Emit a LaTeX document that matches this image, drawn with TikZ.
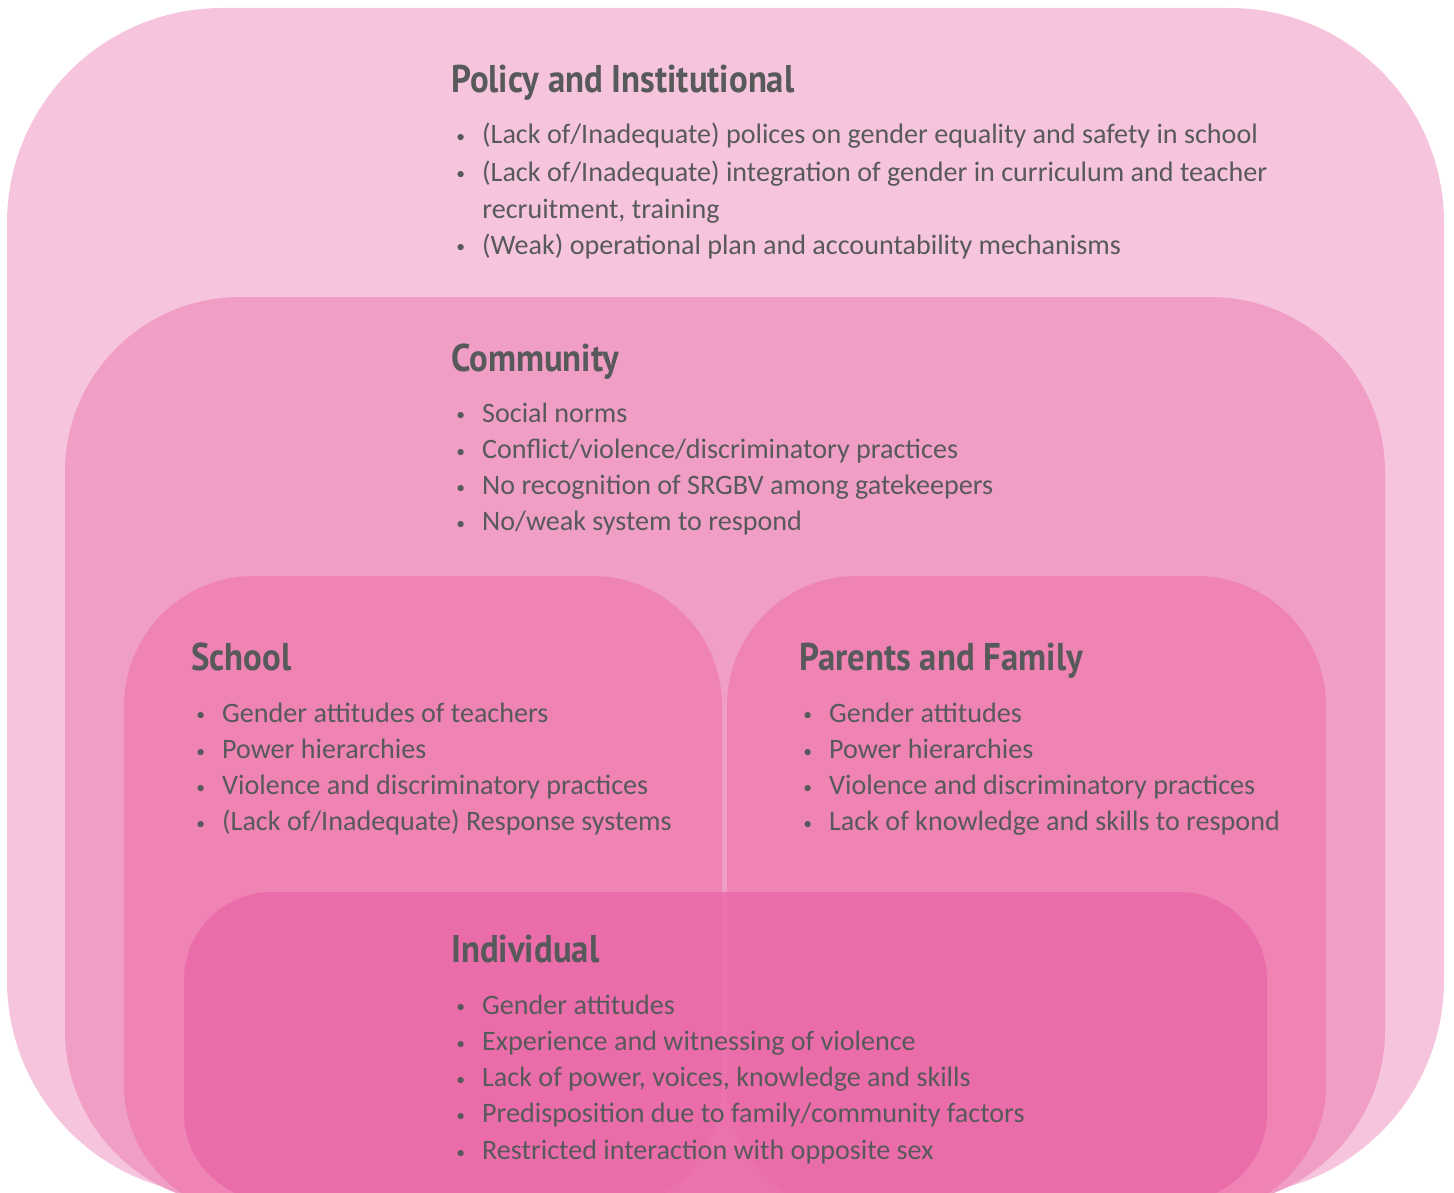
\documentclass[tikz,border=0pt]{standalone}
\usepackage{fontspec}
\setmainfont{Carlito}
\newfontfamily\headfont[FakeStretch=0.9]{PT Sans}
\usetikzlibrary{positioning}

\definecolor{policypink}{HTML}{F6C4DD}
\definecolor{communitypink}{HTML}{F09EC6}
\definecolor{schoolpink}{HTML}{EE83B4}
\definecolor{individualpink}{HTML}{EA67A7}
\definecolor{textgray}{HTML}{58595B}

\tikzset{
	head/.style={anchor=base west, inner sep=0pt, text=textgray,
			font=\headfont\bfseries\fontsize{22}{26}\selectfont},
	item/.style={anchor=base west, inner sep=0pt, text=textgray,
			font=\fontsize{16}{20}\selectfont}
}
\newcommand{\bul}{\makebox[14.7pt][l]{\raisebox{0.6pt}{\fontsize{10}{10}\selectfont\textbullet}}}

\begin{document}
\begin{tikzpicture}[x=0.02cm, y=-0.02cm]
	\useasboundingbox (0,0) rectangle (1454,1193);
	\clip (0,0) rectangle (1454,1193);

	% The nested layers
	\fill[policypink, rounded corners=4.3cm] (7,8) rectangle (1444,1195);
	\fill[communitypink, rounded corners=3.5cm] (65,297) rectangle (1385,1205);
	\fill[schoolpink, rounded corners=2.6cm] (124,576) rectangle (722,1215);
	\fill[schoolpink, rounded corners=2.6cm] (727,576) rectangle (1326,1215);
	\fill[individualpink, fill opacity=0.8, rounded corners=1.76cm] (184,892) rectangle (1267,1201);

	% Policy and Institutional
	\node[head] (policy) at (451,92) {Policy and Institutional};
	\node[item] (pol1) at (456,144) {\bul(Lack of/Inadequate) polices on gender equality and safety in school};
	\node[item] (pol2) at (456,181) {\bul(Lack of/Inadequate) integration of gender in curriculum and teacher};
	\node[item] (pol2b) at (482,218) {recruitment, training};
	\node[item] (pol3) at (456,254) {\bul(Weak) operational plan and accountability mechanisms};

	% Community
	\node[head] (community) at (451,371) {Community};
	\foreach \txt [count=\i] in {Social norms, Conflict/violence/discriminatory practices,
			No recognition of SRGBV among gatekeepers, No/weak system to respond}
		\node[item] (com\i) at (456,{422+36.3*(\i-1)}) {\bul\txt};

	% School
	\node[head] (school) at (191,670) {School};
	\foreach \txt [count=\i] in {Gender attitudes of teachers, Power hierarchies,
			Violence and discriminatory practices, (Lack of/Inadequate) Response systems}
		\node[item] (sch\i) at (196,{722+36.3*(\i-1)}) {\bul\txt};

	% Parents and Family
	\node[head] (family) at (799,670) {Parents and Family};
	\foreach \txt [count=\i] in {Gender attitudes, Power hierarchies,
			Violence and discriminatory practices, Lack of knowledge and skills to respond}
		\node[item] (fam\i) at (803,{722+36.3*(\i-1)}) {\bul\txt};

	% Individual
	\node[head] (individual) at (451,962) {Individual};
	\foreach \txt [count=\i] in {Gender attitudes, Experience and witnessing of violence,
			{Lack of power, voices, knowledge and skills},
			Predisposition due to family/community factors,
			Restricted interaction with opposite sex}
		\node[item] (ind\i) at (456,{1014+36.3*(\i-1)}) {\bul\txt};
\end{tikzpicture}
\end{document}
